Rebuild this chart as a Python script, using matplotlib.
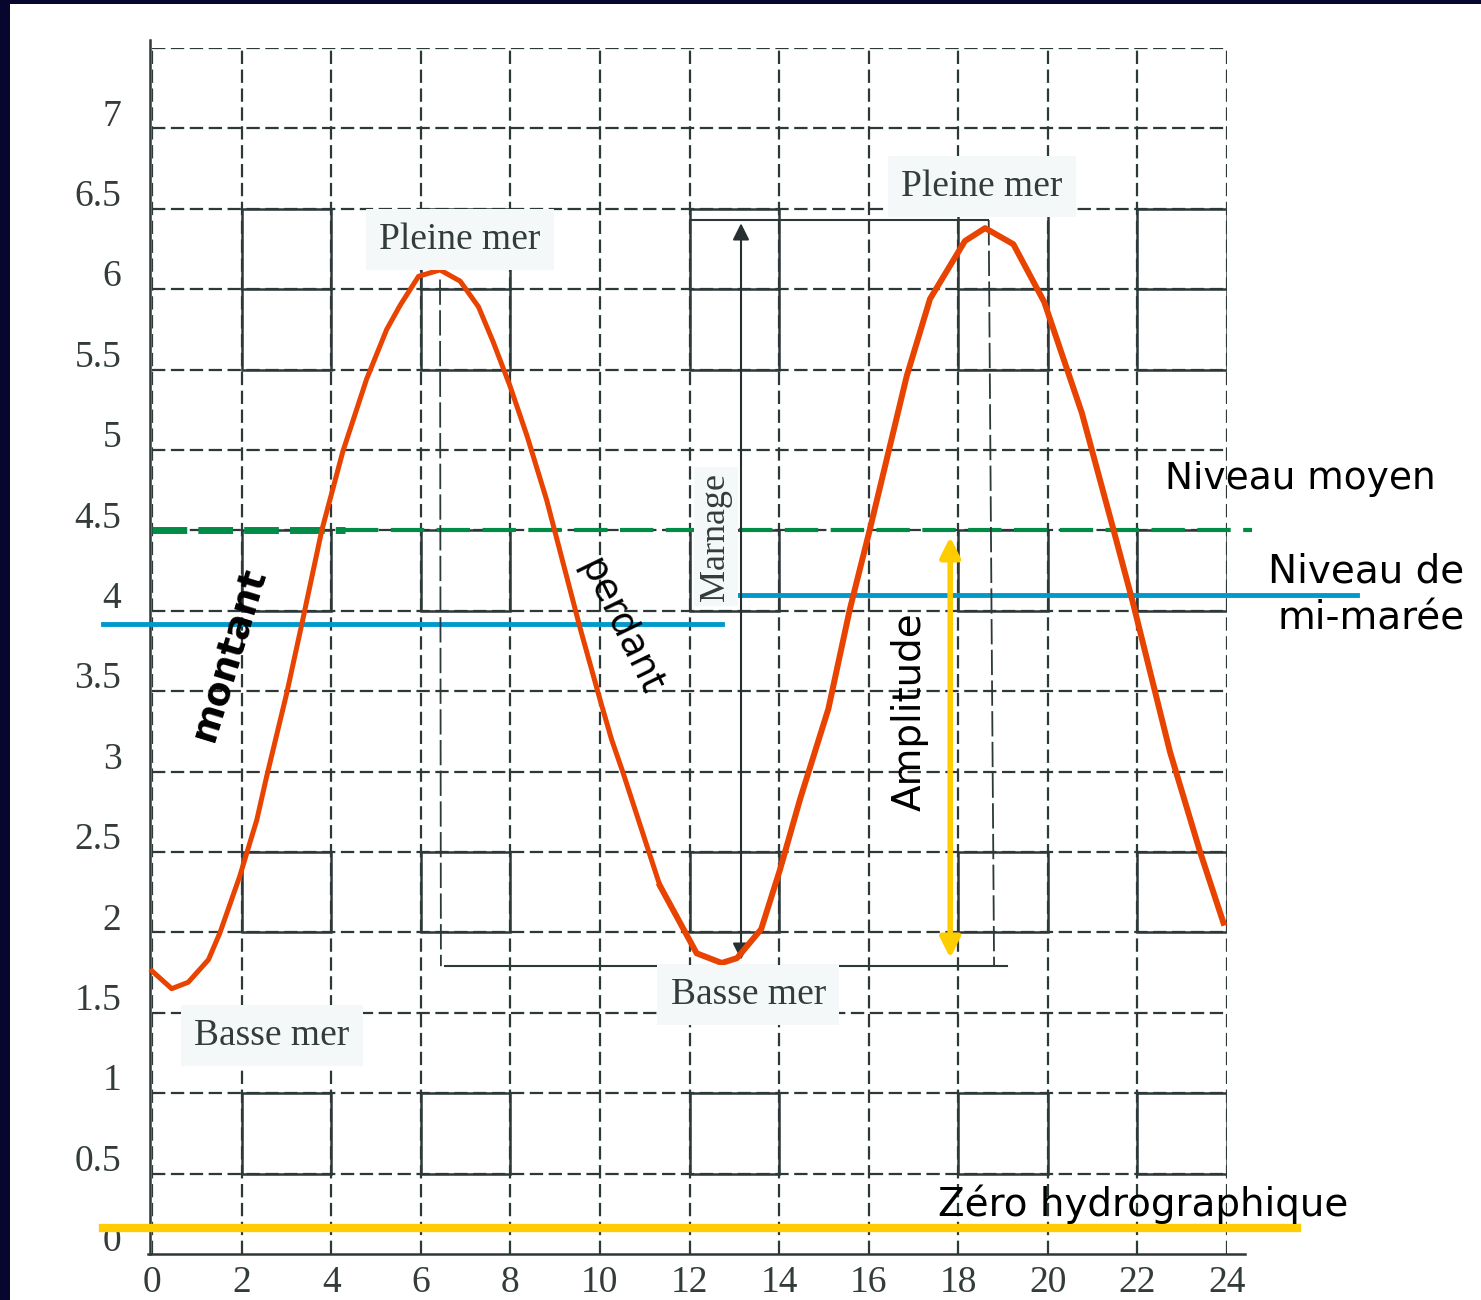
import matplotlib.pyplot as plt
from matplotlib.patches import Rectangle
from matplotlib import transforms

# tide curve (hours, height in m)
hours = [0.0, 0.44, 0.81, 1.26, 1.52, 1.96, 2.34, 2.56, 3.01, 3.37, 3.79, 4.26, 4.79,
         5.24, 5.54, 5.95, 6.43, 6.88, 7.29, 7.62, 7.99, 8.37, 8.81, 9.56, 10.0,
         10.26, 10.52, 11.34, 12.16, 12.72, 13.06, 13.60, 14.02, 14.47, 15.10,
         15.58, 16.03, 16.85, 17.37, 18.15, 18.60, 19.23, 19.92, 20.76, 21.46,
         21.90, 22.73, 23.40, 23.92]
height = [1.76, 1.65, 1.69, 1.83, 2.00, 2.35, 2.70, 2.97, 3.49, 3.95, 4.50, 4.99, 5.44,
          5.75, 5.90, 6.08, 6.12, 6.05, 5.89, 5.67, 5.40, 5.09, 4.69, 3.89, 3.45,
          3.20, 2.99, 2.29, 1.87, 1.81, 1.84, 2.02, 2.39, 2.83, 3.39,
          4.01, 4.51, 5.46, 5.94, 6.30, 6.38, 6.28, 5.92, 5.23, 4.51,
          4.05, 3.12, 2.50, 2.06]

xticks = list(range(0, 25, 2))
yticks = [0, 0.5, 1, 1.5, 2, 2.5, 3, 3.5, 4, 4.5, 5, 5.5, 6, 6.5, 7]
ytick_labels = ['0', '0.5', '1', '1.5', '2', '2.5', '3', '3.5', '4', '4.5', '5', '5.5', '6', '6.5', '7']

niveau_moyen = 4.5
mi_maree_1 = 3.92
mi_maree_2 = 4.10
zero_hydro = 0.16
pm2, bm = 6.43, 1.79   # marnage guide levels

grid_col = '#2d3838'
serif = 'Liberation Serif'
comic = 'DejaVu Sans'

fig = plt.figure(figsize=(14.81, 13), dpi=100)
fig.patch.set_facecolor('white')
# dark frame on top and left
fig.add_artist(Rectangle((0, 0), 10 / 1481, 1, transform=fig.transFigure,
                         facecolor='#06062e', edgecolor='none'))
fig.add_artist(Rectangle((0, 1 - 4 / 1300), 1, 4 / 1300, transform=fig.transFigure,
                         facecolor='#06062e', edgecolor='none'))

ax = fig.add_axes([152 / 1481, 1 - 1254 / 1300, 1075 / 1481, 1206 / 1300])
ax.set_facecolor('none')
ax.set_xlim(0, 24)
ax.set_ylim(0, 7.5)

# dashed grid
for gx in xticks:
    ax.plot([gx, gx], [0, 7.5], color=grid_col, lw=1.6, dashes=(6, 2.5), zorder=1)
for gy in [0.5 * i for i in range(1, 16)]:
    ax.plot([0, 24], [gy, gy], color=grid_col, lw=1.6, dashes=(6, 2.5), zorder=1)

# solid cells of the paper
for cx in [2, 6, 12, 18, 22]:
    for y0, y1 in [(5.5, 6.5), (4, 4.5), (2, 2.5), (0.5, 1)]:
        ax.add_patch(Rectangle((cx, y0), 2, y1 - y0, fill=False, ec=grid_col, lw=1.8, zorder=1))
        if y1 - y0 > 0.5:
            ax.plot([cx, cx + 2], [6, 6], color=grid_col, lw=1.8, zorder=1)

for s in ['top', 'right', 'bottom', 'left']:
    ax.spines[s].set_visible(False)
ax.plot([-0.1, 24.4], [0, 0], color=grid_col, lw=1.8, clip_on=False, zorder=2)
ax.plot([-0.05, -0.05], [0, 7.55], color=grid_col, lw=1.8, clip_on=False, zorder=2)

ax.set_xticks(xticks)
ax.set_yticks(yticks)
ax.set_yticklabels(ytick_labels)
ax.tick_params(length=0, labelsize=27, colors='#333b3b', pad=22)
for lab in ax.get_xticklabels() + ax.get_yticklabels():
    lab.set_fontfamily(serif)
off = transforms.ScaledTranslation(0, 16 / 100, fig.dpi_scale_trans)
for lab in ax.get_yticklabels():
    lab.set_transform(lab.get_transform() + off)
ax.tick_params(axis='x', pad=8)

# levels
ax.plot([0, 4.3], [niveau_moyen, niveau_moyen], color='#008c46', lw=5, dashes=(5, 1.6), zorder=3)
ax.plot([4.3, 12.1], [niveau_moyen, niveau_moyen], color='#008c46', lw=3, dashes=(8, 3), zorder=3)
ax.plot([13.1, 24.55], [niveau_moyen, niveau_moyen], color='#008c46', lw=3, dashes=(8, 3),
        zorder=3, clip_on=False)
ax.plot([-1.09, 12.73], [mi_maree_1, mi_maree_1], color='#0099cc', lw=3.5, zorder=3, clip_on=False)
ax.plot([13.08, 26.9], [mi_maree_2, mi_maree_2], color='#0099cc', lw=3.5, zorder=3, clip_on=False)
ax.plot([-1.09, 25.56], [zero_hydro, zero_hydro], color='#ffcc00', lw=6, zorder=3, clip_on=False)

# marnage construction
ax.plot([12.01, 18.67], [pm2, pm2], color=grid_col, lw=1.5, zorder=3)
ax.plot([6.54, 19.09], [bm, bm], color=grid_col, lw=1.5, zorder=3)
ax.plot([6.43, 6.45], [6.06, bm], color=grid_col, lw=1.3, dashes=(14, 3), zorder=3)
ax.plot([18.68, 18.8], [pm2, bm], color=grid_col, lw=1.3, dashes=(14, 3), zorder=3)
ax.annotate('', xy=(13.15, 6.41), xytext=(13.15, 1.83),
            arrowprops=dict(arrowstyle='<|-|>', color='#263030', lw=1.5,
                            mutation_scale=25, shrinkA=0, shrinkB=0), zorder=4)
ax.annotate('', xy=(17.82, 4.46), xytext=(17.82, 1.84),
            arrowprops=dict(arrowstyle='<|-|>', color='#ffcc00', lw=4,
                            mutation_scale=30, shrinkA=0, shrinkB=0), zorder=4)

# tide curve
ax.plot(hours[:28], height[:28], color='#e84300', lw=3.6, zorder=5, clip_on=False)
ax.plot(hours[27:], height[27:], color='#e84300', lw=4.3, zorder=5, clip_on=False)

box = dict(boxstyle='square,pad=0.35', fc='#f4f8f8', ec='none')
ax.text(6.88, 6.31, 'Pleine mer', family=serif, fontsize=27, color='#333b3b',
        ha='center', va='center', bbox=box, zorder=6)
ax.text(18.53, 6.64, 'Pleine mer', family=serif, fontsize=27, color='#333b3b',
        ha='center', va='center', bbox=box, zorder=6)
ax.text(2.68, 1.36, 'Basse mer', family=serif, fontsize=27, color='#333b3b',
        ha='center', va='center', bbox=box, zorder=6)
ax.text(13.31, 1.61, 'Basse mer', family=serif, fontsize=27, color='#333b3b',
        ha='center', va='center', bbox=box, zorder=6)
ax.text(12.59, 4.46, 'Marnage', family=serif, fontsize=26, color='#333b3b', rotation=90,
        ha='center', va='center', bbox=dict(boxstyle='square,pad=0.15', fc='#f4f8f8', ec='none'),
        zorder=6)

ax.text(1.74, 3.73, 'montant', family=comic, fontsize=27, fontweight='bold', color='black',
        rotation=73, ha='center', va='center', zorder=6, rotation_mode='anchor')
ax.text(10.45, 3.90, 'perdant', family=comic, fontsize=27, color='black',
        rotation=-64, ha='center', va='center', zorder=6, rotation_mode='anchor')
ax.text(16.92, 3.37, 'Amplitude', family=comic, fontsize=28, color='black',
        rotation=90, ha='center', va='center', zorder=6)
ax.text(22.62, 4.82, 'Niveau moyen', family=comic, fontsize=27, color='black',
        ha='left', va='center', zorder=6, clip_on=False)
ax.text(29.3, 4.10, 'Niveau de\nmi-marée', family=comic, fontsize=28, color='black',
        ha='right', va='center', multialignment='right', linespacing=1.3, zorder=6, clip_on=False)
ax.text(17.55, 0.31, 'Zéro hydrographique', family=comic, fontsize=28, color='black',
        ha='left', va='center', zorder=6, clip_on=False)

fig.savefig('out.png', dpi=100)
